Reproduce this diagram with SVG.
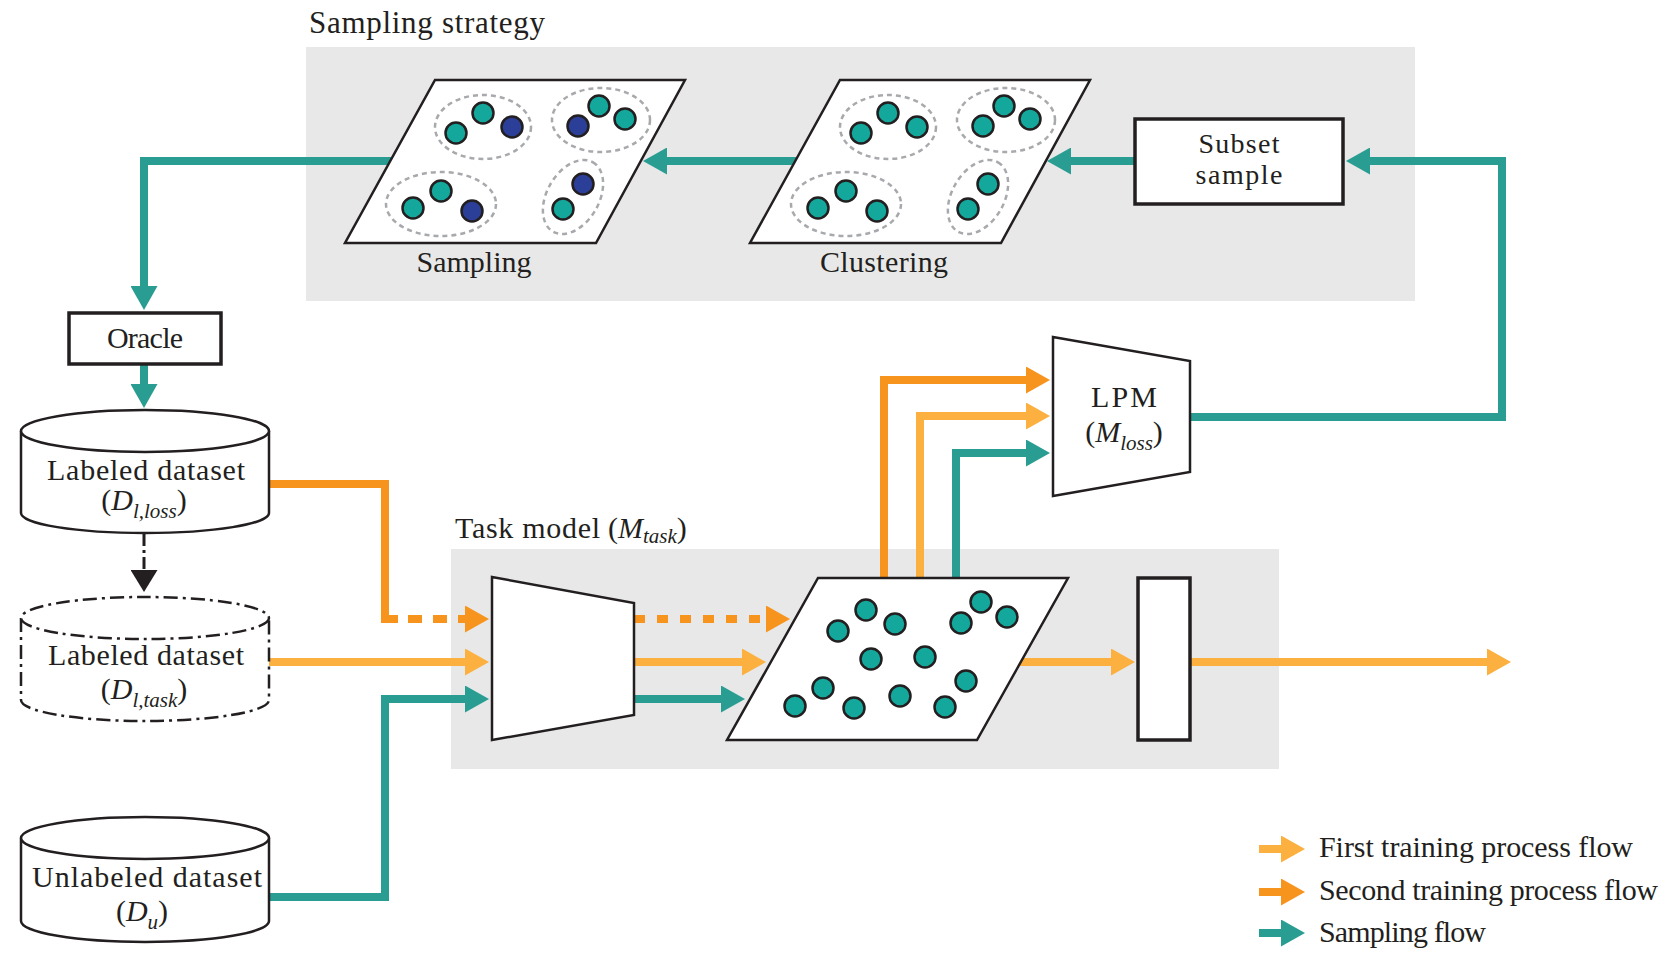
<svg xmlns="http://www.w3.org/2000/svg" width="1676" height="957" viewBox="0 0 1676 957">
<style>
.panel{fill:#e8e8e8}
.shape{fill:#fff;stroke:#231f20;stroke-width:2.5;stroke-linejoin:miter}
.box{fill:#fff;stroke:#231f20;stroke-width:3.5}
.dd{fill:#fff;stroke:#231f20;stroke-width:2.5;stroke-dasharray:14 5 3 5}
.dot{fill:#14a89c;stroke:#231f20;stroke-width:2.5}
.dotb{fill:#2b3f98;stroke:#231f20;stroke-width:2.5}
.clu{fill:none;stroke:#a7a9ac;stroke-width:2.5;stroke-dasharray:5 4}
.t{font-family:"Liberation Serif","Times New Roman",serif;font-size:30px;fill:#231f20}
.m{font-style:italic}
.sub{font-style:italic;font-size:21px}
.c{fill:none;stroke-width:8;stroke-linejoin:miter}
.teal{stroke:#2a9d93}
.org{stroke:#f7941d}
.lor{stroke:#fbb040}
.dash{stroke-dasharray:14 11}
.dash2{stroke-dasharray:11 12}
</style>
<defs>
<marker id="aT" markerWidth="24" markerHeight="27" refX="4" refY="13.5" orient="auto" markerUnits="userSpaceOnUse"><path d="M0,0 L24,13.5 L0,27 Z" fill="#2a9d93"/></marker>
<marker id="aO" markerWidth="24" markerHeight="27" refX="4" refY="13.5" orient="auto" markerUnits="userSpaceOnUse"><path d="M0,0 L24,13.5 L0,27 Z" fill="#f7941d"/></marker>
<marker id="aL" markerWidth="24" markerHeight="27" refX="4" refY="13.5" orient="auto" markerUnits="userSpaceOnUse"><path d="M0,0 L24,13.5 L0,27 Z" fill="#fbb040"/></marker>
<marker id="aK" markerWidth="22" markerHeight="27" refX="4" refY="13.5" orient="auto" markerUnits="userSpaceOnUse"><path d="M0,0 L22,13.5 L0,27 Z" fill="#231f20"/></marker>
</defs>
<rect width="1676" height="957" fill="#fff"/>

<g id="panel-sampling-strategy">
<rect class="panel" x="306" y="47" width="1109" height="254"/>
<text class="t" x="309" y="33" style="font-size:31px" textLength="236">Sampling strategy</text>
</g>
<g id="panel-task-model">
<rect class="panel" x="451" y="549" width="828" height="220"/>
<text class="t" x="455" y="538" textLength="145">Task model</text>
<text class="t" x="608" y="538">(<tspan class="m">M</tspan><tspan class="sub" dy="5">task</tspan><tspan dy="-5">)</tspan></text>
</g>

<g id="connectors">
<path class="c teal" d="M400,161 H144 V290" marker-end="url(#aT)"/>
<path class="c teal" d="M800,161 H663" marker-end="url(#aT)"/>
<path class="c teal" d="M1140,161 H1067" marker-end="url(#aT)"/>
<path class="c teal" d="M1185,417 H1502 V161 H1366" marker-end="url(#aT)"/>
<path class="c teal" d="M144,360 V388" marker-end="url(#aT)"/>
<path class="c org" d="M265,484 H385 V619 H398"/>
<path class="c org dash" d="M408,619 H469" marker-end="url(#aO)"/>
<path class="c lor" d="M265,662 H469" marker-end="url(#aL)"/>
<path class="c teal" d="M265,897 H385 V699 H469" marker-end="url(#aT)"/>
<path class="c org dash2" d="M634,619 H770" marker-end="url(#aO)"/>
<path class="c lor" d="M630,662 H746" marker-end="url(#aL)"/>
<path class="c teal" d="M630,699 H725" marker-end="url(#aT)"/>
<path class="c org" d="M884,585 V380 H1030" marker-end="url(#aO)"/>
<path class="c lor" d="M920,585 V416 H1030" marker-end="url(#aL)"/>
<path class="c teal" d="M956,585 V453 H1030" marker-end="url(#aT)"/>
<path class="c lor" d="M1015,662 H1115" marker-end="url(#aL)"/>
<path class="c lor" d="M1185,662 H1491" marker-end="url(#aL)"/>
<path fill="none" stroke="#231f20" stroke-width="3" stroke-dasharray="12 4 3 4" d="M144,534 V574" marker-end="url(#aK)"/>
</g>

<g id="sampling">
<polygon class="shape" points="435,80 685,80 596,243 345,243"/>
<ellipse class="clu" cx="483" cy="127" rx="48" ry="32"/>
<ellipse class="clu" cx="601" cy="120" rx="49" ry="32"/>
<ellipse class="clu" cx="441" cy="204" rx="55" ry="32"/>
<ellipse class="clu" cx="573" cy="197" rx="40" ry="26" transform="rotate(-60 573 197)"/>
<circle class="dot" cx="456" cy="133" r="10.5"/>
<circle class="dot" cx="483" cy="113" r="10.5"/>
<circle class="dotb" cx="512" cy="127" r="10.5"/>
<circle class="dotb" cx="578" cy="126" r="10.5"/>
<circle class="dot" cx="599" cy="106" r="10.5"/>
<circle class="dot" cx="625" cy="119" r="10.5"/>
<circle class="dot" cx="413" cy="208" r="10.5"/>
<circle class="dot" cx="441" cy="191" r="10.5"/>
<circle class="dotb" cx="472" cy="211" r="10.5"/>
<circle class="dotb" cx="583" cy="184" r="10.5"/>
<circle class="dot" cx="563" cy="209" r="10.5"/>
<text class="t" x="474" y="272" text-anchor="middle" textLength="115">Sampling</text>
</g>

<g id="clustering">
<polygon class="shape" points="840,80 1090,80 1001,243 750,243"/>
<ellipse class="clu" cx="888" cy="127" rx="48" ry="32"/>
<ellipse class="clu" cx="1006" cy="120" rx="49" ry="32"/>
<ellipse class="clu" cx="846" cy="204" rx="55" ry="32"/>
<ellipse class="clu" cx="978" cy="197" rx="40" ry="26" transform="rotate(-60 978 197)"/>
<circle class="dot" cx="861" cy="133" r="10.5"/>
<circle class="dot" cx="888" cy="113" r="10.5"/>
<circle class="dot" cx="917" cy="127" r="10.5"/>
<circle class="dot" cx="983" cy="126" r="10.5"/>
<circle class="dot" cx="1004" cy="106" r="10.5"/>
<circle class="dot" cx="1030" cy="119" r="10.5"/>
<circle class="dot" cx="818" cy="208" r="10.5"/>
<circle class="dot" cx="846" cy="191" r="10.5"/>
<circle class="dot" cx="877" cy="211" r="10.5"/>
<circle class="dot" cx="988" cy="184" r="10.5"/>
<circle class="dot" cx="968" cy="209" r="10.5"/>
<text class="t" x="884" y="272" text-anchor="middle" textLength="128">Clustering</text>
</g>

<g id="subset-sample">
<rect class="box" x="1135" y="119" width="208" height="85"/>
<text class="t" x="1239" y="153" text-anchor="middle" style="font-size:28px" textLength="81">Subset</text>
<text class="t" x="1239" y="184" text-anchor="middle" style="font-size:28px" textLength="87">sample</text>
</g>

<g id="oracle">
<rect class="box" x="69" y="313" width="152" height="51"/>
<text class="t" x="145" y="348" text-anchor="middle" textLength="76">Oracle</text>
</g>

<g id="labeled-loss">
<path class="shape" d="M21,431 V513 A124,20 0 0 0 269,513 V431"/>
<ellipse class="shape" cx="145" cy="431" rx="124" ry="21"/>
<text class="t" x="146" y="480" text-anchor="middle" textLength="198">Labeled dataset</text>
<text class="t" x="144" y="510" text-anchor="middle">(<tspan class="m">D</tspan><tspan class="sub" dy="8">l,loss</tspan><tspan dy="-8">)</tspan></text>
</g>

<g id="labeled-task">
<path class="dd" d="M21,618 V700 A124,21 0 0 0 269,700 V618"/>
<ellipse class="dd" cx="145" cy="618" rx="124" ry="21"/>
<text class="t" x="146" y="665" text-anchor="middle" textLength="196">Labeled dataset</text>
<text class="t" x="144" y="699" text-anchor="middle">(<tspan class="m">D</tspan><tspan class="sub" dy="8">l,task</tspan><tspan dy="-8">)</tspan></text>
</g>

<g id="unlabeled">
<path class="shape" d="M21,838 V921 A124,21 0 0 0 269,921 V838"/>
<ellipse class="shape" cx="145" cy="838" rx="124" ry="21"/>
<text class="t" x="147" y="887" text-anchor="middle" textLength="230">Unlabeled dataset</text>
<text class="t" x="142" y="921" text-anchor="middle">(<tspan class="m">D</tspan><tspan class="sub" dy="8">u</tspan><tspan dy="-8">)</tspan></text>
</g>

<g id="task-encoder">
<polygon class="shape" points="492,577 634,603 634,715 492,740"/>
</g>

<g id="features">
<polygon class="shape" points="818,578 1068,578 977,740 727,740"/>
<circle class="dot" cx="866" cy="610" r="10.5"/>
<circle class="dot" cx="838" cy="631" r="10.5"/>
<circle class="dot" cx="895" cy="624" r="10.5"/>
<circle class="dot" cx="981" cy="602" r="10.5"/>
<circle class="dot" cx="961" cy="623" r="10.5"/>
<circle class="dot" cx="1007" cy="617" r="10.5"/>
<circle class="dot" cx="871" cy="659" r="10.5"/>
<circle class="dot" cx="925" cy="657" r="10.5"/>
<circle class="dot" cx="823" cy="688" r="10.5"/>
<circle class="dot" cx="795" cy="706" r="10.5"/>
<circle class="dot" cx="854" cy="708" r="10.5"/>
<circle class="dot" cx="900" cy="696" r="10.5"/>
<circle class="dot" cx="966" cy="681" r="10.5"/>
<circle class="dot" cx="945" cy="707" r="10.5"/>
</g>

<g id="classifier">
<rect class="box" x="1138" y="578" width="52" height="162"/>
</g>

<g id="lpm">
<polygon class="shape" points="1053,337 1190,361 1190,472 1053,496"/>
<text class="t" x="1124" y="407" text-anchor="middle" textLength="66">LPM</text>
<text class="t" x="1124" y="442" text-anchor="middle">(<tspan class="m">M</tspan><tspan class="sub" dy="8">loss</tspan><tspan dy="-8">)</tspan></text>
</g>

<g id="legend">
<path class="c lor" d="M1259,849 H1285" marker-end="url(#aL)"/>
<path class="c org" d="M1259,892 H1285" marker-end="url(#aO)"/>
<path class="c teal" d="M1259,933 H1285" marker-end="url(#aT)"/>
<text class="t" x="1319" y="857" textLength="314">First training process flow</text>
<text class="t" x="1319" y="900" textLength="339">Second training process flow</text>
<text class="t" x="1319" y="942" textLength="167">Sampling flow</text>
</g>
</svg>
